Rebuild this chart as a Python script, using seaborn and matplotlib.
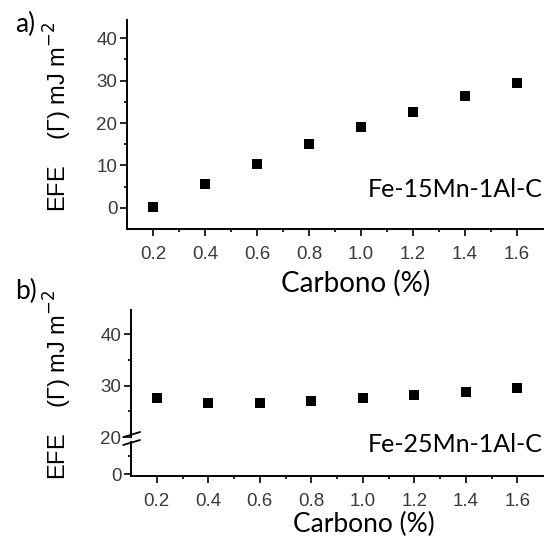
import numpy as np
import pandas as pd
import matplotlib
matplotlib.use("Agg")
import matplotlib.pyplot as plt
import seaborn as sns

# ---- data ----
carbono = [0.2, 0.4, 0.6, 0.8, 1.0, 1.2, 1.4, 1.6]
efe_15mn = [0.2, 5.5, 10.4, 15.0, 19.0, 22.7, 26.3, 29.4]
efe_25mn = [27.6, 26.7, 26.7, 27.0, 27.6, 28.2, 28.8, 29.5]
x_ticks = [0.2, 0.4, 0.6, 0.8, 1.0, 1.2, 1.4, 1.6]
y_ticks_a = [0, 10, 20, 30, 40]
y_ticks_b = [0, 20, 30, 40]
label_a = "Fe-15Mn-1Al-C"
label_b = "Fe-25Mn-1Al-C"

df_a = pd.DataFrame({"Carbono": carbono, "EFE": efe_15mn})
df_b = pd.DataFrame({"Carbono": carbono, "EFE": efe_25mn})

sns.set_theme(style="ticks")
SANS = ["Liberation Sans", "DejaVu Sans"]
plt.rcParams["font.family"] = SANS

fig = plt.figure(figsize=(5.45, 5.42), dpi=100)
W, H = 545, 542
ax1 = fig.add_axes([127 / W, 1 - 229 / H, 416 / W, 209 / H])
ax2 = fig.add_axes([131 / W, 1 - 476 / H, 412 / W, 166 / H])

for ax, df in ((ax1, df_a), (ax2, df_b)):
    sns.scatterplot(data=df, x="Carbono", y="EFE", ax=ax, marker="s",
                    s=54, color="black", linewidth=0, legend=False, zorder=3)

# broken-axis style scale for panel b
LOW, HIGH, BRK = 1.85, 5.15, 20.0
def fwd(y):
    y = np.asarray(y, dtype=float)
    return np.where(y <= BRK, y * LOW, BRK * LOW + (y - BRK) * HIGH)
def inv(u):
    u = np.asarray(u, dtype=float)
    return np.where(u <= BRK * LOW, u / LOW, BRK + (u - BRK * LOW) / HIGH)
ax2.set_yscale("function", functions=(fwd, inv))

ax1.set_ylim(-5, 44.3)
ax2.set_ylim(-1, 44.7)
for ax in (ax1, ax2):
    ax.set_xlim(0.1, 1.7)
    ax.set_xticks(x_ticks)
    ax.set_xticklabels([f"{v:.1f}" for v in x_ticks])
    ax.set_xticks(np.arange(0.3, 1.7, 0.2), minor=True)
    sns.despine(ax=ax)
    for sp in ("left", "bottom"):
        ax.spines[sp].set_linewidth(1.4)
        ax.spines[sp].set_color("black")
    ax.tick_params(which="major", direction="out", length=5, width=1.2,
                   labelsize=13.5, labelcolor="#3a3a3a", color="black",
                   labelfontfamily="Liberation Sans")
    ax.tick_params(axis="x", which="major", pad=7.5)
    ax.tick_params(axis="y", which="major", pad=2)
    ax.tick_params(which="minor", direction="out", length=2.5, width=1.2,
                   color="black")

ax1.set_yticks(y_ticks_a)
ax1.set_yticks([5, 15, 25, 35], minor=True)
ax2.set_yticks(y_ticks_b)
ax2.set_yticks([10, 25, 35], minor=True)

# break marks on panel b y-axis
tr = ax2.get_yaxis_transform()
ax2.plot([0.0, 0.0], [17.9, 19.8], color="white", lw=4,
         transform=tr, clip_on=False, zorder=5, solid_capstyle="butt")
ax2.plot([-0.019, 0.022], [20.0, 21.0], color="black", lw=1.3,
         transform=tr, clip_on=False, zorder=6)
ax2.plot([-0.019, 0.022], [15.76, 18.46], color="black", lw=1.3,
         transform=tr, clip_on=False, zorder=6)

ylab = "EFE    (\u0393) mJ m$^{-2}$"
for ax, lx, ly, xl_x, xl_y, xl_fs, txt in (
        (ax1, -0.127, 0.536, 0.550, -0.195, 20, label_a),
        (ax2, -0.138, 0.548, 0.566, -0.215, 19, label_b)):
    ax.set_ylabel(ylab, fontsize=17, color="black", fontfamily=SANS)
    ax.yaxis.set_label_coords(lx, ly)
    ax.set_xlabel("Carbono (%)", fontsize=xl_fs, fontfamily="Lato", color="black")
    ax.xaxis.set_label_coords(xl_x, xl_y)
    ax.xaxis.label.set_va("top")
    ax.text(0.998, 0.19, txt, transform=ax.transAxes, ha="right", va="center",
            fontsize=18, fontfamily="Lato", color="black")

fig.text(15 / W, 1 - 24 / H, "a)", fontsize=19, fontfamily="Lato",
         ha="left", va="center", color="black")
fig.text(15 / W, 1 - 291 / H, "b)", fontsize=19, fontfamily="Lato",
         ha="left", va="center", color="black")

fig.savefig("out.png", dpi=100)
